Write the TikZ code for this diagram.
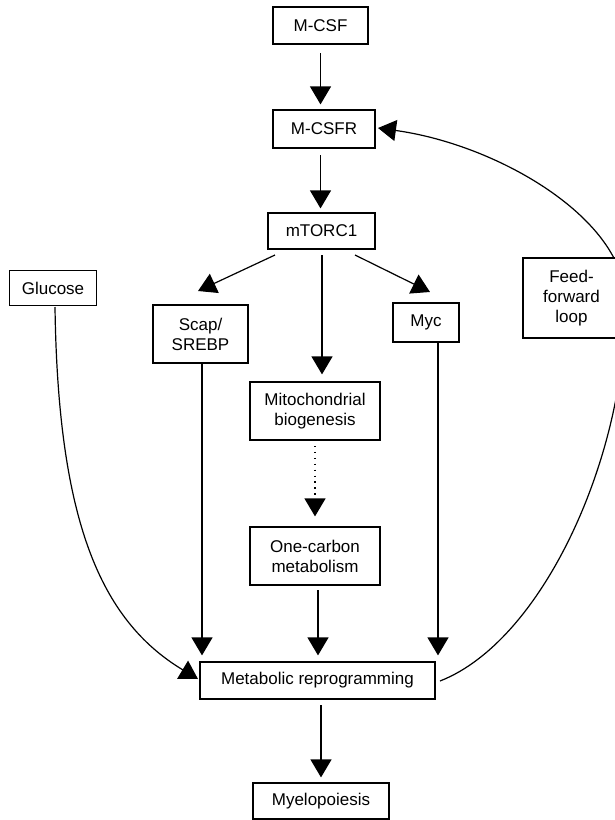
\documentclass[tikz,border=0pt]{standalone}
\usepackage{fontspec}
\setmainfont{Liberation Sans}
\usetikzlibrary{arrows.meta}
\begin{document}
\begin{tikzpicture}[x=1pt,y=-1pt,
  box/.style={draw,fill=white,line width=1.2pt,inner sep=0pt,align=center,
    font=\fontsize{17}{20}\selectfont},
  arr/.style={line width=1.2pt,-{Triangle[width=21pt,length=18pt]}},
  link/.style={line width=1.2pt},
  dotline/.style={dash pattern=on 1.3pt off 4.6pt},
]
\useasboundingbox (0,0) rectangle (615,820);
\node[box,minimum width=97pt,minimum height=80pt] (ffl) at (571.5,298) {Feed-\\forward\\loop};
\node[box,minimum width=235pt,minimum height=37pt] (mr) at (317.5,680.5) {Metabolic reprogramming};
\node[box,minimum width=102pt,minimum height=38pt] (mcsfr) at (324,129) {M-CSFR};
\node[box,minimum width=95pt,minimum height=37pt] (mcsf) at (320.5,25.5) {M-CSF};
\node[box,minimum width=107pt,minimum height=36pt] (mtorc) at (321.5,231) {mTORC1};
\node[box,minimum width=87pt,minimum height=35pt] (glc) at (53,288) {Glucose};
\node[box,minimum width=95pt,minimum height=58pt] (scap) at (200.5,334) {Scap/\\SREBP};
\node[box,minimum width=66pt,minimum height=39pt] (myc) at (426,322.5) {Myc};
\node[box,minimum width=130pt,minimum height=58pt] (mito) at (315,411) {Mitochondrial\\biogenesis};
\node[box,minimum width=130pt,minimum height=58pt] (onec) at (315,556) {One-carbon\\metabolism};
\node[box,minimum width=136pt,minimum height=36pt] (myelo) at (321,801) {Myelopoiesis};

\coordinate (a1) at (320.5,53);
\coordinate (b1) at (320.5,155);
\coordinate (a2) at (322,255);
\coordinate (a3) at (275,255);
\coordinate (a4) at (355,255);
\coordinate (t3) at (198,291);
\coordinate (t4) at (430,292);
\coordinate (s1) at (202,363);
\coordinate (m1) at (438,342);
\coordinate (o1) at (318,590);
\coordinate (d1) at (315,446);
\coordinate (r1) at (321,705);
\coordinate (g1) at (55,307);
\coordinate (gt) at (198,679);
\coordinate (f1) at (440,681);
\coordinate (ffr) at (625,300);
\coordinate (ft) at (378,128);

\draw[arr,shorten >=5pt] (a1) -- (a1 |- mcsfr.north);
\draw[arr,shorten >=4pt] (b1) -- (b1 |- mtorc.north);
\draw[arr] (a3) -- (t3);
\draw[arr] (a4) -- (t4);
\draw[arr,shorten >=7pt] (a2) -- (a2 |- mito.north);
\draw[arr,dotline,shorten >=10pt] (d1) -- (d1 |- onec.north);
\draw[arr,shorten >=6pt] (s1) -- (s1 |- mr.north);
\draw[arr,shorten >=6pt] (o1) -- (o1 |- mr.north);
\draw[arr,shorten >=6pt] (m1) -- (m1 |- mr.north);
\draw[arr,shorten >=5pt] (r1) -- (r1 |- myelo.north);
\draw[arr] (g1) .. controls (58,520) and (100,620) .. (gt);
\draw[link] (f1) .. controls (545,640) and (628,450) .. (ffr);
\draw[arr] (ffr) .. controls (625,220) and (500,145) .. (ft);
% feed-forward box drawn again over the curve
\node[box,minimum width=97pt,minimum height=80pt] at (ffl) {Feed-\\forward\\loop};
\end{tikzpicture}
\end{document}
